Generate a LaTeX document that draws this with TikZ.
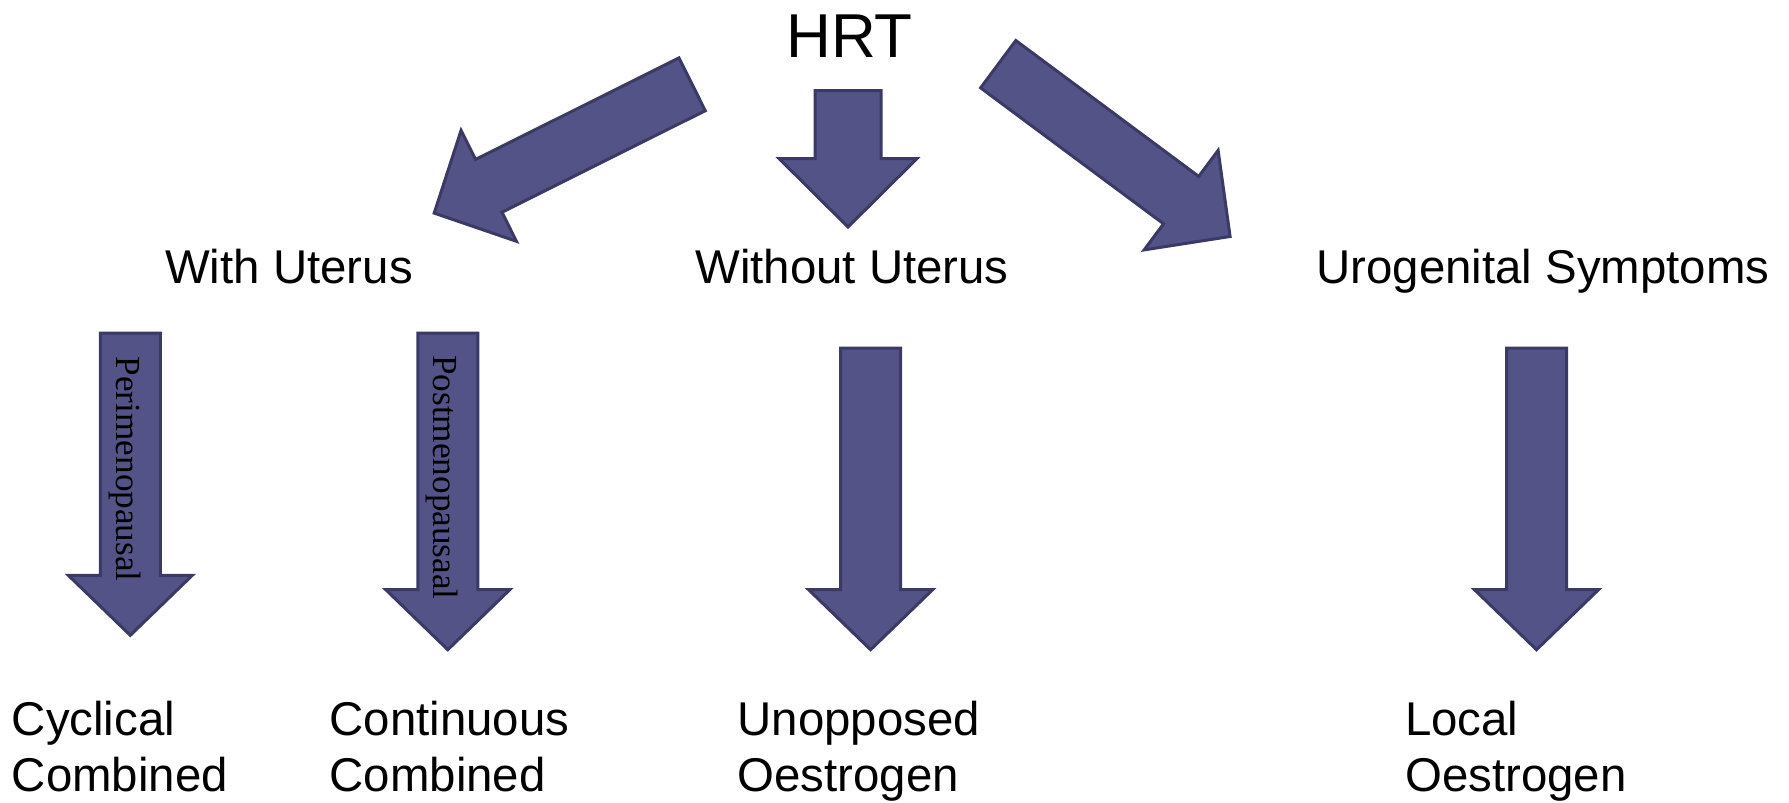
\documentclass[tikz,border=0pt]{standalone}
\usepackage{fontspec}
\setmainfont{Liberation Sans}
\newfontfamily\serifface{Liberation Serif}
\usetikzlibrary{calc}
\definecolor{arrfill}{RGB}{83,83,135}
\definecolor{arredge}{RGB}{58,58,100}
\tikzset{
  barrow/.style={fill=arrfill, draw=arredge, line width=3pt, line join=miter},
  lbl/.style={inner sep=0pt, font=\fontsize{47.4}{56}\selectfont},
  toplbl/.style={inner sep=0pt, anchor=base, font=\fontsize{62}{70}\selectfont},
  vlbl/.style={inner sep=0pt, rotate=-90, anchor=base west, font=\serifface\fontsize{35.2}{40}\selectfont},
  res/.style={lbl, align=left, anchor=base west}
}
\newcommand\blockarr[5]{%
  \coordinate (#1#2h) at ($(#2)!#5!(#1)$);
  \draw[barrow] ($(#1)!#3!90:(#2)$) -- ($(#1#2h)!#3!90:(#2)$) -- ($(#1#2h)!#4!90:(#2)$) -- (#2)
    -- ($(#1#2h)!#4!-90:(#2)$) -- ($(#1#2h)!#3!-90:(#2)$) -- ($(#1)!#3!-90:(#2)$) -- cycle;}
\begin{document}
\begin{tikzpicture}[x=1pt,y=-1pt]
\useasboundingbox (0,0) rectangle (1789,803);
% arrow end points
\coordinate (lt) at (692.1,84.3);  \coordinate (lh) at (434.2,213.1);
\coordinate (mt) at (848,90.5);    \coordinate (mh) at (848,227);
\coordinate (rt) at (998.2,64.2);  \coordinate (rh) at (1230.1,236.5);
\coordinate (p1t) at (130.3,333);  \coordinate (p1h) at (130.3,635.3);
\coordinate (p2t) at (447.8,333);  \coordinate (p2h) at (447.8,649.7);
\coordinate (p3t) at (870.6,348.2); \coordinate (p3h) at (870.6,649.7);
\coordinate (p4t) at (1536.5,348.2); \coordinate (p4h) at (1536.5,649.7);
\blockarr{lt}{lh}{29.5pt}{62pt}{61pt}
\blockarr{mt}{mh}{33pt}{69pt}{68.5pt}
\blockarr{rt}{rh}{29.5pt}{62pt}{61pt}
\blockarr{p1t}{p1h}{30pt}{62pt}{60pt}
\blockarr{p2t}{p2h}{30pt}{62pt}{60pt}
\blockarr{p3t}{p3h}{30pt}{62pt}{60pt}
\blockarr{p4t}{p4h}{30pt}{62pt}{60pt}
% labels
\node[toplbl] (hrt) at (849.5,57) {HRT};
\node[lbl, anchor=base] (with) at (289,283) {With Uterus};
\node[lbl, anchor=base] (without) at (852,283) {Without Uterus};
\node[lbl, anchor=base] (uro) at (1543,283) {Urogenital Symptoms};
\node[vlbl] (peri) at (116.5,356.5) {Perimenopausal};
\node[vlbl] (post) at (433,355) {Postmenopausaal};
\node[res] (cyc) at (11.6,791.5) {Cyclical\\Combined};
\node[res] (cont) at (329.4,791.5) {Continuous\\Combined};
\node[res] (unop) at (737.5,791.5) {Unopposed\\Oestrogen};
\node[res] (loc) at (1405,791.5) {Local\\Oestrogen};
\end{tikzpicture}
\end{document}
